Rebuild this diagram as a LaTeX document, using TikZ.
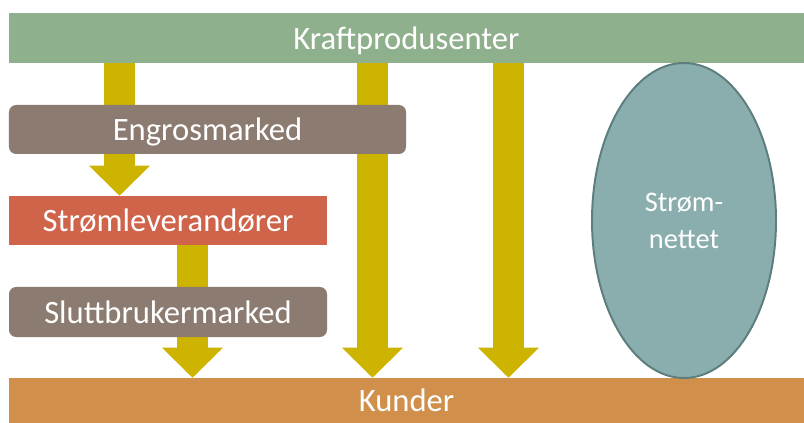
\documentclass[tikz,border=0pt]{standalone}
\usepackage{fontspec}
\setmainfont{Carlito}
\usepackage{xcolor}
\usepackage{tikz}
\usetikzlibrary{shapes.geometric, arrows.meta, backgrounds}

\definecolor{kraftgreen}{HTML}{8FB08C}
\definecolor{kundeorange}{HTML}{D08F4A}
\definecolor{marketbrown}{HTML}{8B7B70}
\definecolor{supplierred}{HTML}{D0644A}
\definecolor{flowyellow}{HTML}{CDB400}
\definecolor{gridfill}{HTML}{8AADAD}
\definecolor{gridline}{HTML}{5E7E7E}

\begin{document}
\begin{tikzpicture}
        \tikzstyle{bar} = [rectangle, minimum width=19.875cm, inner sep=0pt, text depth=0pt, text=white, font=\fontsize{23.2}{27}\selectfont]
        \tikzstyle{market} = [rectangle, rounded corners=5pt, inner sep=0pt, text depth=0pt, fill=marketbrown, text=white, font=\fontsize{23.2}{27}\selectfont]
        \tikzstyle{supplier} = [rectangle, inner sep=0pt, text depth=0pt, fill=supplierred, text=white, font=\fontsize{23.2}{27}\selectfont]
        \tikzstyle{grid} = [ellipse, inner sep=0pt, minimum width=4.6cm, minimum height=7.875cm, draw=gridline, line width=1.4pt, fill=gridfill, text=white, align=center, font=\fontsize{20.2}{26.3}\selectfont]
        \tikzstyle{flow} = [draw=flowyellow, line width=0.775cm, -{Triangle[width=1.525cm, length=0.75cm, line width=0pt]}]

        \useasboundingbox (0,0) rectangle (20.1,-10.575);

        % Producers and customers
        \node (kraft) [bar, fill=kraftgreen, minimum height=1.25cm] at (10.1625,-0.95) {Kraftprodusenter};
        \node (kunder) [bar, fill=kundeorange, minimum height=1.125cm] at (10.1625,-10.0125) {Kunder};

        % Market chain
        \node (engros) [market, minimum width=9.925cm, minimum height=1.225cm] at (5.1875,-3.2375) {Engrosmarked};
        \node (strom) [supplier, minimum width=7.95cm, minimum height=1.225cm] at (4.2,-5.5125) {Strømleverandører};
        \node (slutt) [market, minimum width=7.95cm, minimum height=1.25cm] at (4.2,-7.8) {Sluttbrukermarked};

        % Grid
        \node (nett) [grid] at (17.1,-5.5125) {Strøm-\\nettet};

        % Flows
        \coordinate (f1) at (2.9875,0);
        \coordinate (f2) at (9.3125,0);
        \coordinate (f3) at (12.7125,0);
        \coordinate (f4) at (4.8125,0);
        \begin{scope}[on background layer]
        \draw [flow] (f1 |- kraft.south) -- (f1 |- strom.north);
        \draw [flow] (f2 |- kraft.south) -- (f2 |- kunder.north);
        \draw [flow] (f3 |- kraft.south) -- (f3 |- kunder.north);
        \draw [flow] (f4 |- strom.south) -- (f4 |- kunder.north);
        \end{scope}
    \end{tikzpicture}
\end{document}
